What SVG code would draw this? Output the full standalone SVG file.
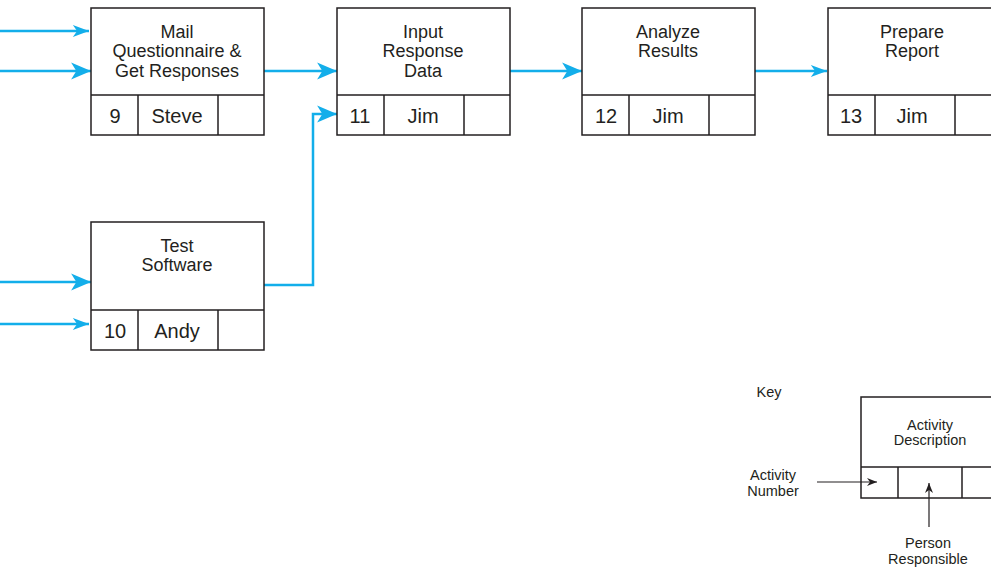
<svg xmlns="http://www.w3.org/2000/svg" width="991" height="568" viewBox="0 0 991 568">
  <style>
    .box { fill: #ffffff; stroke: #231f20; stroke-width: 1.5; }
    .div { stroke: #231f20; stroke-width: 1.5; fill: none; }
    .title { font-family: "Liberation Sans", Arial, sans-serif; font-size: 18px; fill: #231f20; text-anchor: middle; }
    .cell { font-family: "Liberation Sans", Arial, sans-serif; font-size: 20px; fill: #231f20; text-anchor: middle; }
    .key { font-family: "Liberation Sans", Arial, sans-serif; font-size: 14.5px; fill: #231f20; text-anchor: middle; }
    .flow { stroke: #13aeea; stroke-width: 2.5; fill: none; }
    .keyline { stroke: #231f20; stroke-width: 1.2; fill: none; }
  </style>
  <defs>
    <marker id="big" markerUnits="userSpaceOnUse" markerWidth="22" markerHeight="20" viewBox="-19 -9 21 18" refX="0" refY="0" orient="auto">
      <path d="M-19,-8 L0,0 L-19,8 L-14,0 Z" fill="#13aeea"/>
    </marker>
    <marker id="small" markerUnits="userSpaceOnUse" markerWidth="18" markerHeight="14" viewBox="-15 -6.5 16 13" refX="0" refY="0" orient="auto">
      <path d="M-15,-5.5 L0,0 L-15,5.5 L-11,0 Z" fill="#13aeea"/>
    </marker>
    <marker id="blk" markerUnits="userSpaceOnUse" markerWidth="12" markerHeight="10" viewBox="-11 -5 12 10" refX="0" refY="0" orient="auto">
      <path d="M-10,-4 L0,0 L-10,4 L-7,0 Z" fill="#231f20"/>
    </marker>
  </defs>

  <!-- connectors -->
  <g id="connectors">
    <line class="flow" x1="0" y1="31" x2="89" y2="31" marker-end="url(#small)"/>
    <line class="flow" x1="0" y1="71" x2="91" y2="71" marker-end="url(#big)"/>
    <line class="flow" x1="0" y1="282" x2="91" y2="282" marker-end="url(#big)"/>
    <line class="flow" x1="0" y1="324" x2="89" y2="324" marker-end="url(#small)"/>
    <line class="flow" x1="264" y1="71" x2="337" y2="71" marker-end="url(#big)"/>
    <polyline class="flow" points="264,285 313,285 313,114 337,114" marker-end="url(#big)"/>
    <line class="flow" x1="510" y1="71" x2="582" y2="71" marker-end="url(#big)"/>
    <line class="flow" x1="755" y1="71" x2="827" y2="71" marker-end="url(#small)"/>
  </g>

  <!-- activity 9 -->
  <g id="node-9">
    <rect class="box" x="91" y="8" width="173" height="127"/>
    <path class="div" d="M91,95 H264 M138,95 V135 M218,95 V135"/>
    <text class="title" x="177" y="38">Mail</text>
    <text class="title" x="177" y="57">Questionnaire &amp;</text>
    <text class="title" x="177" y="77">Get Responses</text>
    <text class="cell" x="115" y="123">9</text>
    <text class="cell" x="177" y="123">Steve</text>
  </g>

  <!-- activity 10 -->
  <g id="node-10">
    <rect class="box" x="91" y="222" width="173" height="128"/>
    <path class="div" d="M91,310 H264 M138,310 V350 M218,310 V350"/>
    <text class="title" x="177" y="252">Test</text>
    <text class="title" x="177" y="271">Software</text>
    <text class="cell" x="115" y="338">10</text>
    <text class="cell" x="177" y="338">Andy</text>
  </g>

  <!-- activity 11 -->
  <g id="node-11">
    <rect class="box" x="337" y="8" width="173" height="127"/>
    <path class="div" d="M337,95 H510 M384,95 V135 M464,95 V135"/>
    <text class="title" x="423" y="38">Input</text>
    <text class="title" x="423" y="57">Response</text>
    <text class="title" x="423" y="77">Data</text>
    <text class="cell" x="360" y="123">11</text>
    <text class="cell" x="423" y="123">Jim</text>
  </g>

  <!-- activity 12 -->
  <g id="node-12">
    <rect class="box" x="582" y="8" width="173" height="127"/>
    <path class="div" d="M582,95 H755 M629,95 V135 M709,95 V135"/>
    <text class="title" x="668" y="38">Analyze</text>
    <text class="title" x="668" y="57">Results</text>
    <text class="cell" x="606" y="123">12</text>
    <text class="cell" x="668" y="123">Jim</text>
  </g>

  <!-- activity 13 -->
  <g id="node-13">
    <rect class="box" x="828" y="8" width="173" height="127"/>
    <path class="div" d="M828,95 H1001 M875,95 V135 M955,95 V135"/>
    <text class="title" x="912" y="38">Prepare</text>
    <text class="title" x="912" y="57">Report</text>
    <text class="cell" x="851" y="123">13</text>
    <text class="cell" x="912" y="123">Jim</text>
  </g>

  <!-- key -->
  <g id="key">
    <text class="key" x="769" y="397">Key</text>
    <rect class="box" x="861" y="397" width="139" height="101"/>
    <path class="div" d="M861,467 H1000 M898,467 V498 M962,467 V498"/>
    <text class="key" x="930" y="430">Activity</text>
    <text class="key" x="930" y="445">Description</text>
    <text class="key" x="773" y="480">Activity</text>
    <text class="key" x="773" y="496">Number</text>
    <line class="keyline" x1="817" y1="482" x2="877" y2="482" marker-end="url(#blk)"/>
    <line class="keyline" x1="929" y1="527" x2="929" y2="483" marker-end="url(#blk)"/>
    <text class="key" x="928" y="548">Person</text>
    <text class="key" x="928" y="564">Responsible</text>
  </g>
</svg>
